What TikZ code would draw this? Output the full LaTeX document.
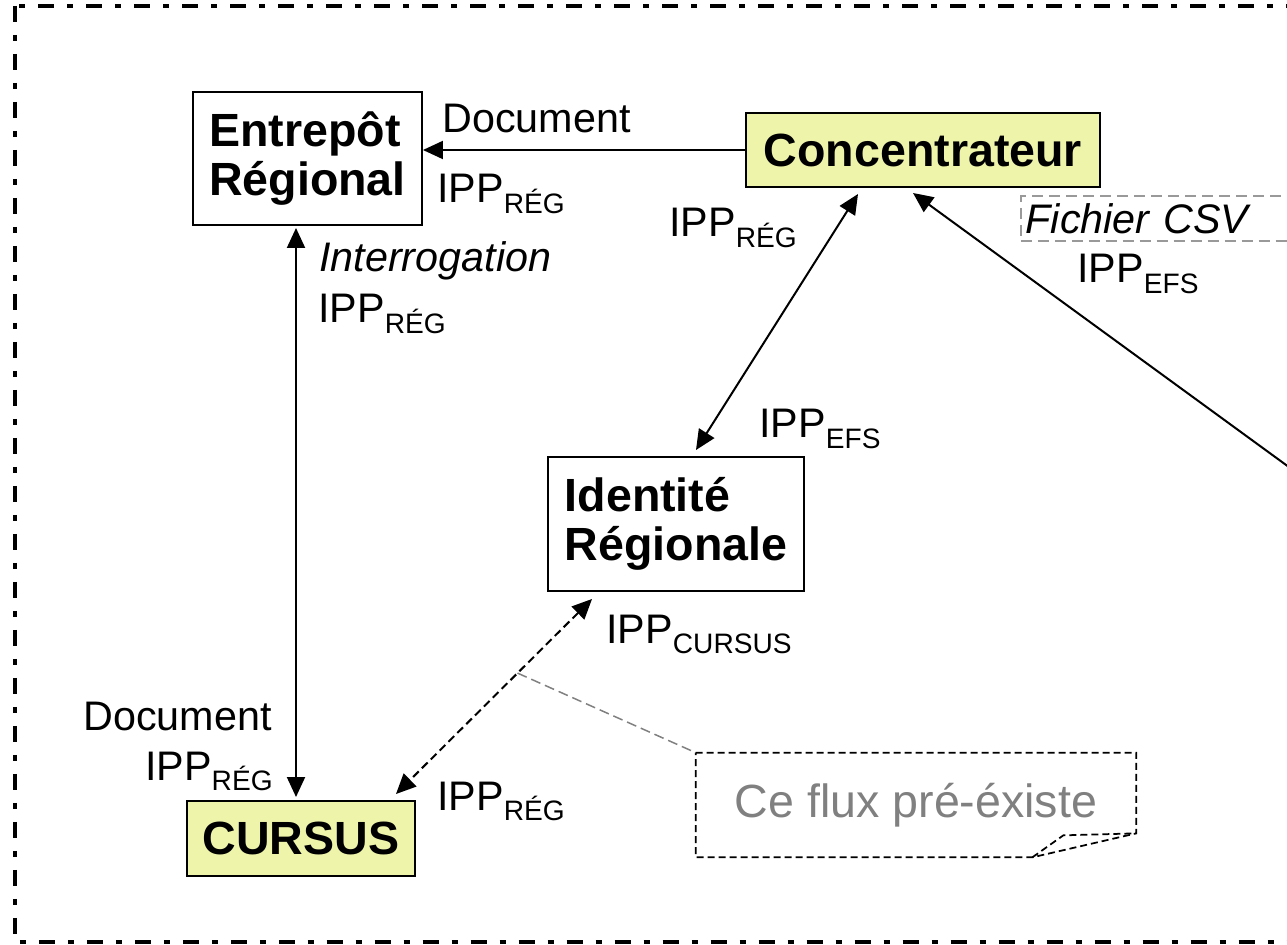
\documentclass[tikz,border=0pt]{standalone}
\usepackage{fontspec}
\setmainfont{Liberation Sans}
\usepackage{tikz}
\usetikzlibrary{arrows.meta, positioning, calc}
\definecolor{concfill}{RGB}{238,244,170}
\definecolor{notegray}{RGB}{128,128,128}
\newcommand{\ipp}[1]{IPP\raisebox{-5.7pt}{\fontsize{16}{16}\selectfont #1}}

\begin{document}
\begin{tikzpicture}[x=0.02cm, y=-0.02cm,
      box/.style={draw, line width=0.04cm, inner sep=0pt, align=left, font=\fontsize{26.5}{28}\selectfont\bfseries},
      hot/.style={box, fill=concfill},
      lbl/.style={inner sep=0pt, font=\fontsize{23.5}{26}\selectfont},
      arr/.style={-{Triangle[length=0.4cm, width=0.36cm]}, line width=0.04cm},
      dblarr/.style={{Triangle[length=0.4cm, width=0.36cm]}-{Triangle[length=0.4cm, width=0.36cm]}, line width=0.04cm},
      frame/.style={line width=0.075cm, dash pattern=on 0.32cm off 0.26cm on 0.12cm off 0.26cm},
      flux/.style={dblarr, dash pattern=on 0.16cm off 0.09cm},
      callout/.style={notegray, line width=0.03cm, dash pattern=on 0.2cm off 0.1cm}
    ]
      \useasboundingbox (0,0) rectangle (1287,945);
      \clip (0,0) rectangle (1287,945);

      % Outer frame
      \draw[frame] (15,6) rectangle (1330,942);

      % Systems
      \node[box, minimum width=4.58cm, minimum height=2.66cm] (entrepot) at (307.5,158.5) {Entrepôt\\Régional};
      \node[hot, minimum width=7.08cm, minimum height=1.48cm] (conc) at (923,150) {Concentrateur};
      \node[box, minimum width=5.12cm, minimum height=2.68cm] (ident) at (676,524) {Identité\\Régionale};
      \node[hot, minimum width=4.56cm, minimum height=1.5cm] (cursus) at (301,838.5) {CURSUS};

      % Flows
      \draw[arr] (conc.west) -- (conc.west -| entrepot.east);
      \draw[dblarr] ([xshift=-0.23cm,yshift=-0.04cm]entrepot.south) -- ([xshift=-0.23cm,yshift=0.06cm]entrepot.south |- cursus.north);
      \draw[dblarr] ([xshift=-1.3cm,yshift=-0.12cm]conc.south) -- ([xshift=0.4cm,yshift=0.12cm]ident.north);
      \coordinate (fluxa) at ([xshift=0.9cm,yshift=-0.14cm]ident.south west);
      \coordinate (fluxb) at ([xshift=-0.4cm,yshift=0.12cm]cursus.north east);
      \draw[flux] (fluxa) -- (fluxb);
      \coordinate (csvsrc) at (1330,497);
      \draw[arr] (csvsrc) -- ([xshift=-0.2cm,yshift=-0.1cm]conc.south);

      % Labels
      \node[lbl, anchor=base west] (docA) at (442,133) {Document};
      \node[lbl, anchor=base west] (ippA) at (437,203) {\ipp{RÉG}};
      \node[lbl, anchor=base west] (interro) at (319,272) {\itshape Interrogation};
      \node[lbl, anchor=base west] (ippB) at (318,323) {\ipp{RÉG}};
      \node[lbl, anchor=base west] (ippC) at (669,237) {\ipp{RÉG}};
      \node[lbl, anchor=base west] (ippD) at (759,438) {\ipp{EFS}};
      \node[lbl, anchor=base west] (ippE) at (606,643) {\ipp{CURSUS}};
      \node[lbl, anchor=base west] (ippF) at (437,810) {\ipp{RÉG}};
      \node[lbl, anchor=base east] (docB) at (272,730) {Document};
      \node[lbl, anchor=base east] (ippG) at (273,780) {\ipp{RÉG}};
      \node[lbl, anchor=base west] (ippH) at (1077,283) {\ipp{EFS}};
      \node[lbl, draw=gray!80, line width=0.03cm, dash pattern=on 0.22cm off 0.12cm, anchor=west,
            minimum width=6.4cm, minimum height=0.9cm, text width=6.2cm, align=left] (csv) at (1020,218.5) {\itshape Fichier CSV};

      % Note
      \node[inner sep=0pt, minimum width=8.8cm, minimum height=2.08cm, text=notegray,
            font=\fontsize{26.5}{28}\selectfont] (note) at (916,805) {Ce flux pré-éxiste};
      \draw[line width=0.035cm, dash pattern=on 0.14cm off 0.08cm]
        (note.north west) -- (note.north east) -- ([yshift=0.48cm]note.south east)
        -- ([xshift=-2.08cm]note.south east) -- (note.south west) -- cycle;
      \draw[line width=0.035cm, dash pattern=on 0.14cm off 0.08cm]
        ([xshift=-2.08cm]note.south east) -- ([xshift=-1.46cm,yshift=0.44cm]note.south east) -- ([yshift=0.48cm]note.south east);
      \coordinate (callpt) at ($(fluxa)!0.38!(fluxb)$);
      \draw[callout] (callpt) -- (note.north west);
    \end{tikzpicture}
\end{document}
